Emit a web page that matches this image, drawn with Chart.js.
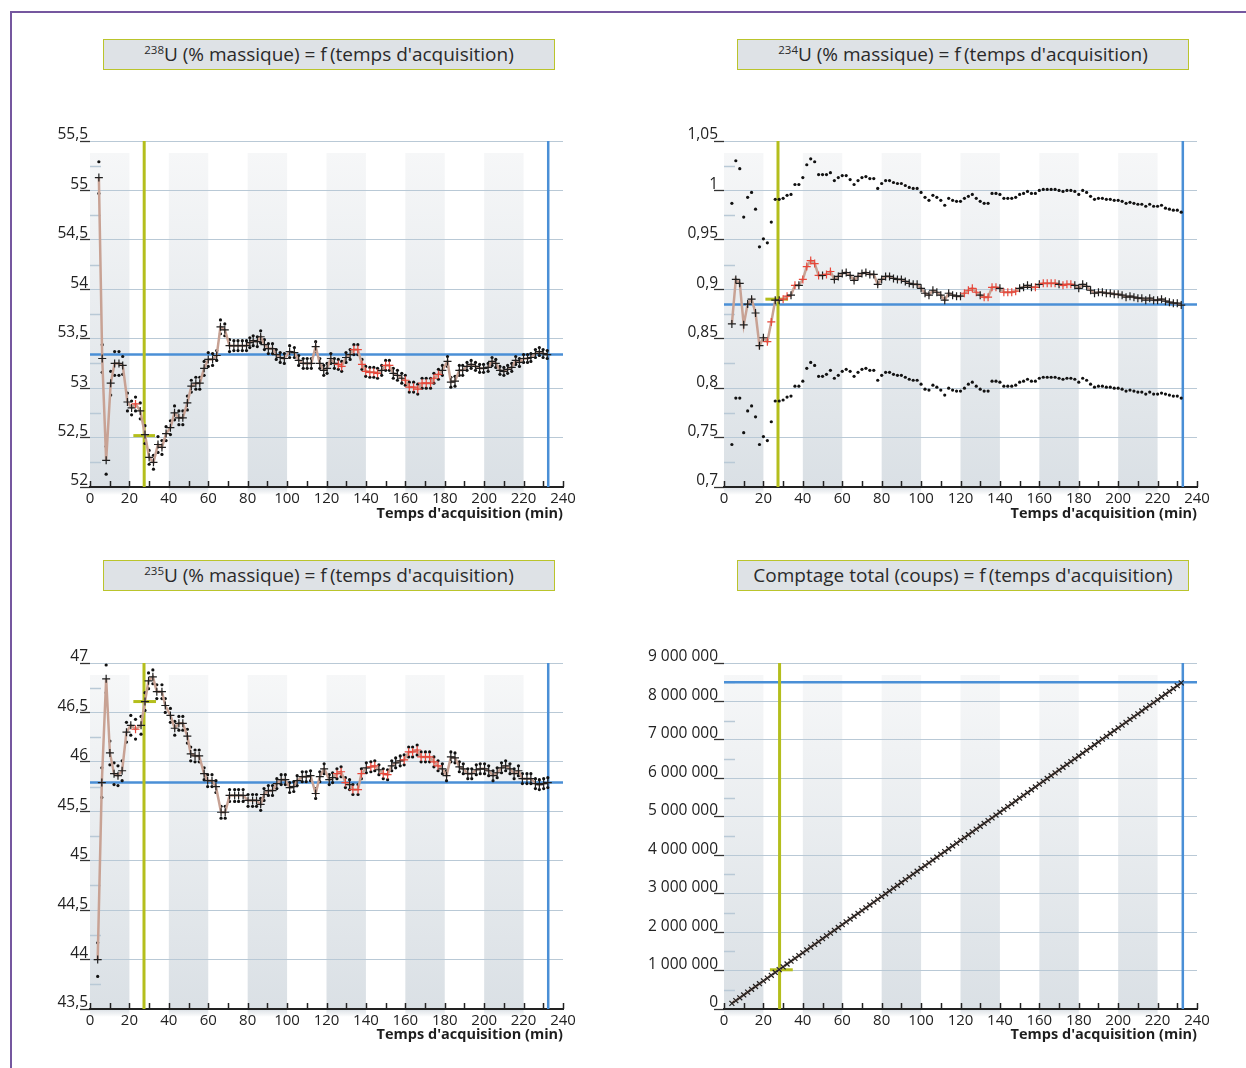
<!DOCTYPE html>
<html><head><meta charset="utf-8">
<script src="https://cdn.jsdelivr.net/npm/chart.js@4.4.1/dist/chart.umd.min.js"></script>
<style>
html,body{margin:0;padding:0;background:#fff;}
body{width:1246px;height:1068px;position:relative;overflow:hidden;font-family:'Open Sans',sans-serif;}
#frame{position:absolute;left:10px;top:11px;width:1260px;height:1080px;border-left:2px solid #75579f;border-top:2px solid #75579f;}
.tbox{position:absolute;width:452px;height:31px;box-sizing:border-box;background:#dee2e6;border:1px solid #bac42c;color:#2a2a2a;font-size:19px;line-height:29px;text-align:center;white-space:nowrap;}
.tbox sup{font-size:11.5px;vertical-align:0;position:relative;top:-7px;}
canvas{position:absolute;}
</style></head>
<body>
<div id="frame"></div>
<div class="tbox" style="left:103px;top:39px"><sup>238</sup>U (% massique) = f&thinsp;(temps d'acquisition)</div>
<div class="tbox" style="left:737px;top:39px"><sup>234</sup>U (% massique) = f&thinsp;(temps d'acquisition)</div>
<div class="tbox" style="left:103px;top:560px"><sup>235</sup>U (% massique) = f&thinsp;(temps d'acquisition)</div>
<div class="tbox" style="left:737px;top:560px">Comptage total (coups) = f&thinsp;(temps d'acquisition)</div>
<canvas id="c1" width="560" height="420" style="left:40px;top:120px"></canvas>
<canvas id="c2" width="600" height="420" style="left:640px;top:120px"></canvas>
<canvas id="c3" width="560" height="420" style="left:40px;top:640px"></canvas>
<canvas id="c4" width="600" height="420" style="left:640px;top:640px"></canvas>
<script>
// ---------- DATA ----------
const bandRanges = [[0,20],[40,60],[80,100],[120,140],[160,180],[200,220]];

// 238U
const times238 = [4.5,6.2,8.2,10.5,12.5,14.7,16.6,19.0,21.1,23.1,
25.5,27.9,30.0,32.2,34.5,36.5,38.6,40.8,42.9,45.1,
47.1,49.4,51.4,53.7,55.7,57.9,60.0,62.2,64.3,66.2,
68.4,70.8,73.0,75.1,77.3,79.4,81.1,82.8,84.9,86.6,
88.5,90.5,92.6,94.5,96.5,98.6,101.3,103.7,105.9,108.2,
110.2,112.3,114.5,116.6,118.6,120.3,122.2,124.0,126.0,127.7,
129.9,132.0,133.9,135.9,138.0,139.9,142.0,144.0,145.9,148.0,
150.0,151.9,153.9,156.0,158.2,160.0,162.0,164.2,166.3,168.5,
170.6,172.8,174.5,176.8,178.8,181.4,183.1,185.2,187.4,189.1,
191.3,193.4,195.6,197.7,199.7,202.0,204.0,205.9,208.0,210.0,
211.9,214.0,216.0,217.9,220.0,222.0,223.7,226.0,228.0,229.9,232.0];
const u238 = [55.13,53.30,52.27,53.05,53.25,53.25,53.23,52.86,52.80,52.84,
52.77,52.53,52.30,52.25,52.43,52.40,52.54,52.60,52.75,52.70,
52.70,52.85,53.02,53.05,53.05,53.20,53.29,53.29,53.33,53.62,
53.59,53.43,53.43,53.43,53.43,53.43,53.46,53.48,53.47,53.52,
53.44,53.40,53.40,53.34,53.31,53.30,53.37,53.36,53.28,53.25,
53.25,53.25,53.42,53.25,53.18,53.20,53.30,53.25,53.24,53.22,
53.31,53.34,53.39,53.39,53.24,53.17,53.16,53.16,53.15,53.18,
53.23,53.23,53.15,53.13,53.10,53.08,53.01,53.01,52.99,53.05,
53.05,53.05,53.10,53.14,53.18,53.27,53.06,53.07,53.18,53.18,
53.22,53.24,53.22,53.20,53.20,53.21,53.27,53.25,53.18,53.17,
53.19,53.21,53.28,53.26,53.30,53.30,53.31,53.35,53.37,53.35,53.34];
const dev238 = [0.16,0.14,0.14,0.12,0.12,0.12,0.09,0.09,0.07,0.07,
0.08,0.09,0.07,0.07,0.08,0.07,0.07,0.07,0.07,0.07,
0.07,0.07,0.06,0.06,0.06,0.07,0.07,0.06,0.05,0.07,
0.06,0.06,0.05,0.05,0.05,0.05,0.05,0.05,0.05,0.06,
0.05,0.05,0.05,0.05,0.05,0.05,0.06,0.05,0.05,0.05,
0.05,0.05,0.05,0.05,0.05,0.05,0.05,0.05,0.05,0.05,
0.05,0.05,0.05,0.05,0.05,0.05,0.05,0.05,0.05,0.05,
0.05,0.05,0.05,0.05,0.05,0.05,0.05,0.05,0.05,0.05,
0.05,0.05,0.05,0.05,0.05,0.05,0.05,0.05,0.05,0.05,
0.04,0.04,0.04,0.04,0.04,0.04,0.04,0.04,0.04,0.04,
0.04,0.04,0.04,0.04,0.04,0.04,0.04,0.04,0.04,0.04,0.04];
const red238 = [9,58,59,62,63,64,65,66,67,68,70,71,75,76,77,78,79,80,81,82,83];

// 234U
const times234 = [4,6,8,10,12,14,16,18,20,22,24,26,28,30,32,34,36,38,40,42,44,46,48,50,52,54,56,58,60,62,64,66,68,70,72,74,76,78,80,82,84,86,88,90,92,94,96,98,100,102,104,106,108,110,112,114,116,118,120,122,124,126,128,130,132,134,136,138,140,142,144,146,148,150,152,154,156,158,160,162,164,166,168,170,172,174,176,178,180,182,184,186,188,190,192,194,196,198,200,202,204,206,208,210,212,214,216,218,220,222,224,226,228,230,232];
const u234 = [0.865,0.910,0.906,0.864,0.885,0.890,0.876,0.843,0.851,0.847,
0.867,0.889,0.889,0.890,0.893,0.894,0.904,0.904,0.910,0.923,
0.929,0.926,0.914,0.914,0.915,0.918,0.910,0.913,0.916,0.917,
0.914,0.909,0.913,0.916,0.917,0.915,0.915,0.905,0.910,0.913,
0.913,0.911,0.910,0.910,0.908,0.906,0.905,0.905,0.901,0.896,
0.894,0.899,0.897,0.894,0.889,0.896,0.894,0.893,0.893,0.896,
0.899,0.901,0.897,0.894,0.892,0.892,0.902,0.902,0.901,0.897,
0.897,0.897,0.898,0.901,0.902,0.904,0.902,0.902,0.905,0.906,
0.906,0.906,0.906,0.905,0.904,0.905,0.905,0.904,0.901,0.905,
0.903,0.899,0.896,0.897,0.897,0.896,0.896,0.895,0.895,0.894,
0.892,0.893,0.892,0.891,0.891,0.889,0.891,0.889,0.889,0.890,
0.888,0.887,0.886,0.886,0.884];
const dev234 = [0.122,0.120,0.116,0.109,0.108,0.108,0.105,0.100,0.100,0.100,
0.101,0.102,0.102,0.102,0.102,0.102,0.102,0.102,0.103,0.103,
0.103,0.103,0.102,0.102,0.101,0.100,0.100,0.100,0.099,0.098,
0.097,0.097,0.097,0.097,0.097,0.097,0.097,0.097,0.097,0.097,
0.097,0.097,0.097,0.097,0.097,0.097,0.097,0.097,0.097,0.097,
0.096,0.096,0.096,0.096,0.096,0.096,0.096,0.096,0.096,0.096,
0.095,0.095,0.095,0.095,0.095,0.095,0.095,0.095,0.095,0.095,
0.095,0.095,0.095,0.095,0.095,0.095,0.095,0.095,0.095,0.095,
0.095,0.095,0.095,0.095,0.095,0.095,0.095,0.095,0.095,0.095,
0.095,0.095,0.095,0.095,0.095,0.095,0.095,0.095,0.095,0.095,
0.095,0.095,0.095,0.095,0.095,0.095,0.095,0.095,0.095,0.095,
0.094,0.094,0.094,0.094,0.094];
const red234 = [9,10,13,14,16,18,19,20,21,22,24,25,59,60,61,62,64,65,66,67,69,70,71,72,77,79,80,81,82,84,85,86];

// 235U
const times235 = [3.9,6.0,8.2,10.1,12.2,14.2,16.3,18.5,20.7,23.1,
25.9,27.9,29.7,31.9,33.9,36.5,38.2,40.8,43.0,45.1,
47.1,49.4,51.1,53.3,55.4,57.9,59.7,61.9,63.9,66.5,
68.6,70.8,73.4,75.4,77.7,80.2,82.5,84.5,86.6,88.3,
90.5,92.6,94.8,97.0,99.1,101.3,103.4,105.1,107.7,109.7,
111.9,114.5,116.6,118.8,121.4,123.1,125.3,127.4,129.6,131.7,
133.4,136.0,137.7,140.2,142.5,144.5,146.6,148.8,151.0,153.1,
155.1,157.4,159.4,161.7,163.7,166.0,168.0,170.2,172.3,174.5,
176.6,178.8,180.9,183.1,185.2,187.4,189.4,191.7,193.7,196.0,
198.0,200.2,202.3,204.5,206.6,208.8,210.9,213.1,215.2,217.4,
219.4,221.7,223.7,226.0,228.0,230.2,232.3];
const u235 = [44.00,45.79,46.84,46.09,45.88,45.86,45.91,46.30,46.37,46.33,
46.37,46.61,46.82,46.86,46.71,46.71,46.57,46.47,46.34,46.39,
46.39,46.26,46.08,46.06,46.06,45.88,45.81,45.81,45.75,45.49,
45.49,45.66,45.66,45.66,45.66,45.61,45.61,45.61,45.57,45.67,
45.71,45.71,45.78,45.82,45.82,45.74,45.75,45.81,45.85,45.85,
45.86,45.68,45.85,45.93,45.82,45.84,45.88,45.90,45.79,45.77,
45.72,45.72,45.88,45.94,45.95,45.96,45.92,45.88,45.87,45.96,
45.99,46.01,46.02,46.10,46.10,46.12,46.05,46.05,46.05,46.00,
45.96,45.93,45.86,46.05,46.04,45.95,45.93,45.88,45.88,45.92,
45.93,45.93,45.91,45.86,45.89,45.94,45.96,45.93,45.88,45.91,
45.83,45.83,45.83,45.78,45.77,45.78,45.79];
const dev235 = [0.17,0.15,0.14,0.12,0.11,0.10,0.10,0.10,0.10,0.10,
0.09,0.09,0.08,0.07,0.07,0.07,0.07,0.07,0.07,0.07,
0.07,0.07,0.07,0.06,0.06,0.06,0.06,0.06,0.06,0.06,
0.06,0.06,0.06,0.06,0.06,0.06,0.06,0.06,0.06,0.06,
0.05,0.05,0.05,0.05,0.05,0.05,0.05,0.05,0.05,0.05,
0.05,0.05,0.05,0.05,0.05,0.05,0.05,0.05,0.05,0.05,
0.05,0.05,0.05,0.05,0.05,0.05,0.05,0.05,0.05,0.05,
0.05,0.05,0.05,0.05,0.05,0.05,0.05,0.05,0.05,0.05,
0.05,0.05,0.05,0.05,0.05,0.05,0.05,0.05,0.05,0.05,
0.05,0.05,0.05,0.05,0.05,0.05,0.05,0.05,0.05,0.05,
0.05,0.05,0.05,0.05,0.05,0.05,0.05];
const red235 = [9,56,57,58,60,61,62,64,65,67,68,72,73,74,75,76,77,78,79,80];

// Comptage total (coups)
const timesCount = times234;
const counts = [146000,219000,292000,366000,439000,512000,585000,658000,731000,804000,
877000,951000,1024000,1097000,1170000,1243000,1316000,1389000,1462000,1536000,
1609000,1682000,1755000,1828000,1901000,1974000,2047000,2120000,2194000,2267000,
2340000,2413000,2486000,2559000,2632000,2705000,2779000,2852000,2925000,2998000,
3071000,3144000,3217000,3290000,3364000,3437000,3510000,3583000,3656000,3729000,
3802000,3875000,3948000,4022000,4095000,4168000,4241000,4314000,4387000,4460000,
4533000,4607000,4680000,4753000,4826000,4899000,4972000,5045000,5118000,5192000,
5265000,5338000,5411000,5484000,5557000,5630000,5703000,5776000,5850000,5923000,
5996000,6069000,6142000,6215000,6288000,6361000,6435000,6508000,6581000,6654000,
6727000,6800000,6873000,6946000,7019000,7093000,7166000,7239000,7312000,7385000,
7458000,7531000,7604000,7678000,7751000,7824000,7897000,7970000,8043000,8116000,
8189000,8262000,8336000,8409000,8482000];

// reference lines (values)
const ref238 = {yellowX:27.5, blueX:232.5, blueY:53.34, segY:52.52, segX:[22,33]};
const ref234 = {yellowX:27.4, blueX:232.8, blueY:0.8845, segY:0.89, segX:[21,32.5]};
const ref235 = {yellowX:27.4, blueX:232.5, blueY:45.79, segY:46.61, segX:[22,33.5]};
const refCount = {yellowX:28.2, blueX:232.8, blueY:8500000, segY:1020000, segX:[23.3,34.9]};

// ---------- STYLE ----------
const GRID='#b9c9d6', RED='#e8473a', BLACK='#1e1e1e', TAN='#c8a294', YEL='#b4be1c', BLUE='#4a8fd6';
const TXT='#222';
Chart.defaults.font.family = "'Open Sans', sans-serif";
Chart.defaults.color = TXT;

function decimalFmt(v){ return String(Math.round(v*1000)/1000).replace('.', ','); }
function spaceFmt(v){ return String(Math.round(v)).replace(/\B(?=(\d{3})+(?!\d))/g, ' '); }

function makeDecor(c){
  return {
    id:'decor',
    beforeDraw(chart){
      const {ctx, chartArea:a, scales:{x}} = chart;
      ctx.save();
      for (const [b0,b1] of bandRanges){
        const x1=x.getPixelForValue(b0), x2=x.getPixelForValue(b1);
        const top=a.top+12;
        const g=ctx.createLinearGradient(0,top,0,a.bottom);
        g.addColorStop(0,'#f6f7f8'); g.addColorStop(1,'#dae0e5');
        ctx.fillStyle=g; ctx.fillRect(x1,top,x2-x1,a.bottom-top);
        const g2=ctx.createLinearGradient(0,a.bottom,0,a.bottom+8);
        g2.addColorStop(0,'rgba(214,220,226,0.9)'); g2.addColorStop(1,'rgba(214,220,226,0)');
        ctx.fillStyle=g2; ctx.fillRect(x1,a.bottom,x2-x1,8);
      }
      ctx.restore();
    },
    beforeDatasetsDraw(chart){
      const {ctx, chartArea:a, scales:{x,y}} = chart;
      ctx.save();
      ctx.strokeStyle=GRID; ctx.lineWidth=1.5;
      for (let v=c.ymin+c.minor; v<c.ymax; v+=2*c.minor){
        const py=Math.round(y.getPixelForValue(v))+0.5;
        ctx.beginPath(); ctx.moveTo(a.left,py); ctx.lineTo(a.left+11,py); ctx.stroke();
      }
      const r=c.ref;
      ctx.strokeStyle=BLUE; ctx.lineWidth=2.5;
      let py=y.getPixelForValue(r.blueY);
      ctx.beginPath(); ctx.moveTo(a.left,py); ctx.lineTo(a.right,py); ctx.stroke();
      let px=x.getPixelForValue(r.blueX);
      ctx.beginPath(); ctx.moveTo(px,a.top); ctx.lineTo(px,a.bottom); ctx.stroke();
      ctx.strokeStyle=YEL; ctx.lineWidth=3;
      px=x.getPixelForValue(r.yellowX);
      ctx.beginPath(); ctx.moveTo(px,a.top); ctx.lineTo(px,a.bottom); ctx.stroke();
      py=y.getPixelForValue(r.segY);
      ctx.beginPath(); ctx.moveTo(x.getPixelForValue(r.segX[0]),py); ctx.lineTo(x.getPixelForValue(r.segX[1]),py); ctx.stroke();
      ctx.restore();
    },
    afterDraw(chart){
      const {ctx, chartArea:a, scales:{x}} = chart;
      ctx.save();
      ctx.strokeStyle='#222'; ctx.lineWidth=1.5;
      for (let v=0; v<=240; v+=10){
        const px=Math.round(x.getPixelForValue(v))+0.5;
        ctx.beginPath(); ctx.moveTo(px,a.bottom); ctx.lineTo(px,a.bottom-6); ctx.stroke();
      }
      ctx.restore();
    }
  };
}

function makeChart(id, c){
  const pts = c.times.map((t,i)=>({x:t, y:c.vals[i]}));
  const ds = [{
    data: pts, borderColor: TAN, borderWidth: 2.5, tension: 0, fill:false,
    pointStyle: c.crossStyle || 'cross', pointRadius: c.crossR || 4, pointHoverRadius: 0,
    pointBorderColor: c.vals.map((v,i)=> (c.red && c.red.includes(i)) ? RED : BLACK),
    pointBorderWidth: 1.2
  }];
  if (c.dev){
    ds.push({ data: c.times.map((t,i)=>({x:t, y:c.vals[i]+c.dev[i]})), showLine:false,
      pointStyle:'circle', pointRadius:1.6, pointBackgroundColor:'#111', pointBorderWidth:0, pointHoverRadius:0 });
    ds.push({ data: c.times.map((t,i)=>({x:t, y:c.vals[i]-c.dev[i]})), showLine:false,
      pointStyle:'circle', pointRadius:1.6, pointBackgroundColor:'#111', pointBorderWidth:0, pointHoverRadius:0 });
  }
  new Chart(document.getElementById(id), {
    type:'line',
    data:{datasets: ds},
    plugins:[makeDecor(c)],
    options:{
      responsive:false, animation:false, devicePixelRatio:1,
      layout:{padding:{top:c.padTop, right:c.padRight, left:0, bottom:0}},
      plugins:{legend:{display:false}, tooltip:{enabled:false}},
      scales:{
        x:{type:'linear', min:0, max:240,
          ticks:{stepSize:20, font:{size:15}, color:TXT, padding:3, maxRotation:0, autoSkip:false},
          grid:{display:false, drawTicks:false},
          border:{display:true, color:'#222', width:2},
          title:{display:true, text:"Temps d'acquisition (min)", align:'end', font:{size:14.5, weight:'bold'}, color:'#1e1e1e', padding:{top:0, bottom:c.titlePad}},
          afterFit(s){ s.height = c.xH; }
        },
        y:{type:'linear', min:c.ymin, max:c.ymax,
          ticks:{stepSize:c.step, font:{size:15.5}, color:TXT, padding:c.labPad, labelOffset:-6, autoSkip:false, callback: c.fmt},
          grid:{color:GRID, lineWidth:1, drawTicks:true, tickLength:10, tickColor:'#333', tickWidth:1.3},
          border:{display:false},
          afterFit(s){ s.width = c.yW; }
        }
      }
    }
  });
}

makeChart('c1', {times:times238, vals:u238, dev:dev238, red:red238, ref:ref238,
  ymin:52, ymax:55.5, step:0.5, minor:0.25, fmt:decimalFmt, labPad:-8,
  padTop:21, padRight:37, yW:50, xH:53, titlePad:17.5});
makeChart('c2', {times:times234, vals:u234, dev:dev234, red:red234, ref:ref234,
  ymin:0.7, ymax:1.05, step:0.05, minor:0.025, fmt:decimalFmt, labPad:-4,
  padTop:21, padRight:43, yW:84, xH:53, titlePad:17.5});
makeChart('c3', {times:times235, vals:u235, dev:dev235, red:red235, ref:ref235,
  ymin:43.5, ymax:47, step:0.5, minor:0.25, fmt:decimalFmt, labPad:-8,
  padTop:23, padRight:37, yW:50, xH:51, titlePad:16.5});
makeChart('c4', {times:timesCount, vals:counts, ref:refCount, crossStyle:'crossRot', crossR:3.5,
  ymin:0, ymax:9000000, step:1000000, minor:500000, fmt:spaceFmt, labPad:-4,
  padTop:23, padRight:43, yW:84, xH:51, titlePad:16.5});
</script>
</body></html>
